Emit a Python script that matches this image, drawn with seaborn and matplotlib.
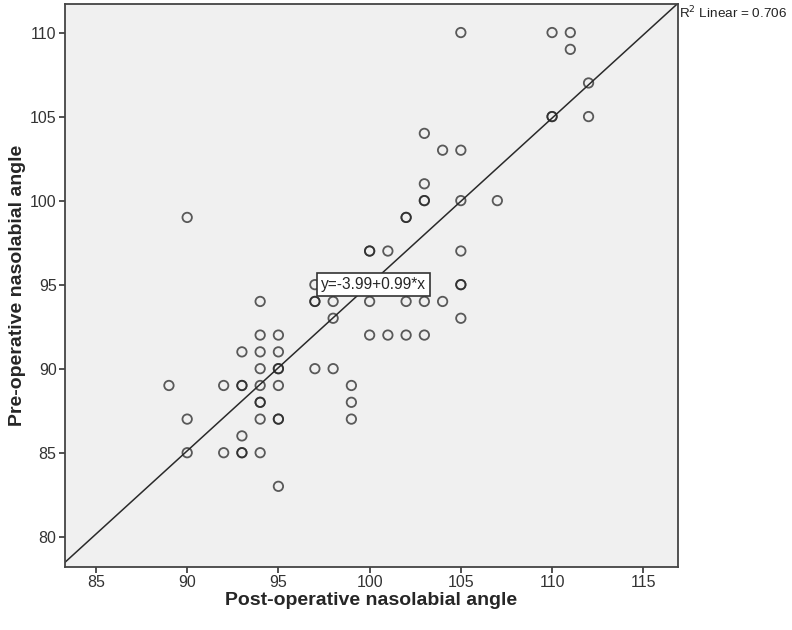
import numpy as np
import matplotlib
matplotlib.use("Agg")
import matplotlib.pyplot as plt
import seaborn as sns
import pandas as pd

# Punti (duplicati ripetuti)
post_angle = [90, 89, 90, 90, 92, 92,
              93, 93, 93, 93, 93, 93,
              94, 94, 94, 94, 94, 94, 94, 94, 94,
              95, 95, 95, 95, 95, 95, 95, 95,
              97, 97, 97, 97, 98, 98, 98, 99, 99, 99,
              100, 100, 100, 100, 101, 101, 102, 102, 102, 102,
              103, 103, 103, 103, 103, 103, 104, 104,
              105, 105, 105, 105, 105, 105, 105, 107,
              110, 110, 110, 111, 111, 112, 112]
pre_angle = [99, 89, 87, 85, 89, 85,
             91, 89, 89, 86, 85, 85,
             94, 92, 91, 90, 89, 88, 88, 87, 85,
             92, 91, 90, 90, 89, 87, 87, 83,
             95, 94, 94, 90, 94, 93, 90, 89, 88, 87,
             97, 97, 94, 92, 97, 92, 99, 99, 94, 92,
             104, 101, 100, 100, 94, 92, 103, 94,
             110, 103, 100, 97, 95, 95, 93, 100,
             110, 105, 105, 110, 109, 107, 105]

intercept = -3.99
slope = 0.99
r2 = 0.706

x_ticks = [85, 90, 95, 100, 105, 110, 115]
y_ticks = [80, 85, 90, 95, 100, 105, 110]

df = pd.DataFrame({"post": post_angle, "pre": pre_angle})

sns.set_style("ticks")
plt.rcParams["font.family"] = ["Liberation Sans", "DejaVu Sans"]

fig = plt.figure(figsize=(7.92, 6.3), dpi=100)
ax = fig.add_axes([0.082, 0.1, 0.774, 0.8937])
ax.set_facecolor("#f0f0f0")

sns.scatterplot(data=df, x="post", y="pre", ax=ax, marker="o", s=46,
                facecolor="none", edgecolor=(0.15, 0.15, 0.15, 0.75),
                linewidth=1.3, zorder=3)

# retta di regressione (coefficienti riportati sul grafico)
ax.axline((0, intercept), slope=slope, color="#2a2a2a", linewidth=1.1, zorder=2)

ax.set_xlim(83.3, 116.9)
ax.set_ylim(78.2, 111.7)
ax.set_xticks(x_ticks)
ax.set_yticks(y_ticks)
ax.tick_params(direction="out", length=4, width=1.2, color="#333333",
               labelsize=11.5, labelcolor="#333333", pad=2)
for sp in ax.spines.values():
    sp.set_color("#444444")
    sp.set_linewidth(1.3)

ax.set_xlabel("Post-operative nasolabial angle", fontsize=14, fontweight="bold", labelpad=1)
ax.set_ylabel("Pre-operative nasolabial angle", fontsize=14, fontweight="bold", labelpad=3)

ax.text(100.2, 95.0, f"y={intercept}+{slope}*x", ha="center", va="center",
        fontsize=11.2, zorder=5,
        bbox=dict(boxstyle="square,pad=0.25", facecolor="white", edgecolor="#333333", linewidth=1.2))

ax.text(1.002, 0.998, f"R$^2$ Linear = {r2}", transform=ax.transAxes, ha="left", va="top",
        fontsize=9.7, color="#222222", clip_on=False)

fig.savefig("out.png", dpi=100)
